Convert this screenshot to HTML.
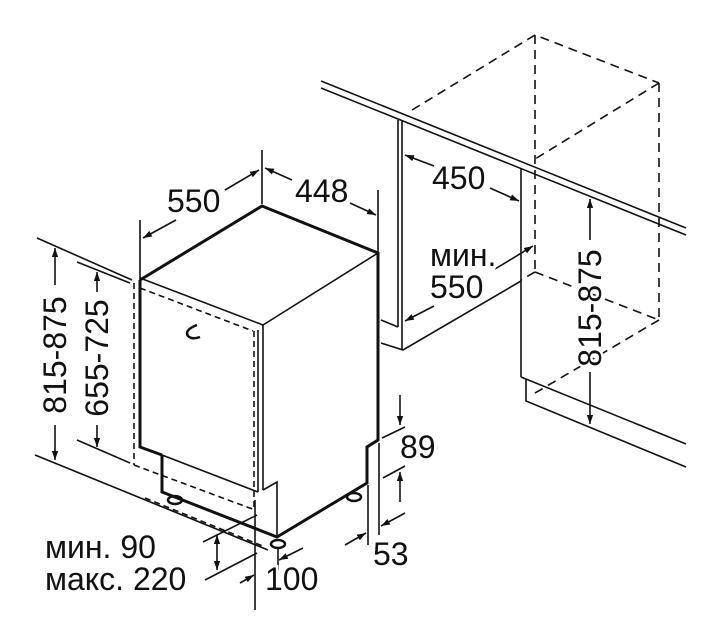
<!DOCTYPE html>
<html><head><meta charset="utf-8"><style>
html,body{margin:0;padding:0;background:#fff;}
svg{display:block}
text{font-family:"Liberation Sans",sans-serif;font-size:32px;fill:#111;stroke:#fff;stroke-width:5px;paint-order:stroke;}
</style></head><body>
<svg width="720" height="640" viewBox="0 0 720 640" xmlns="http://www.w3.org/2000/svg">
<defs>
<marker id="a" viewBox="0 0 10 10" refX="10" refY="5" markerWidth="9" markerHeight="9" markerUnits="userSpaceOnUse" orient="auto"><path d="M0,1.5 L10,5 L0,8.5 z" fill="#111"/></marker>
</defs>
<g stroke="#111" fill="none" stroke-width="1.6">
<line x1="321" y1="81" x2="686" y2="228"/>
<line x1="321" y1="88" x2="686" y2="235"/>
<g stroke-dasharray="9,6">
<polyline points="412,110 535,35 659,83"/>
<line x1="535" y1="35" x2="535" y2="272"/>
<line x1="659" y1="83" x2="659" y2="320"/>
<line x1="659" y1="83" x2="535" y2="159"/>
<line x1="535" y1="272" x2="659" y2="320"/>
<line x1="659" y1="320" x2="530" y2="396"/>
<line x1="535" y1="272" x2="521" y2="280"/>
</g>
<line x1="398" y1="120" x2="398" y2="327"/>
<line x1="402" y1="120" x2="402" y2="350"/>
<polyline points="381,320 398,327"/>
<polyline points="381,343 403,350 521,281"/>
<line x1="521" y1="169" x2="521" y2="377"/>
<line x1="521" y1="377" x2="686" y2="444"/>
<polyline points="526,379 526,401 686,467"/>
<polyline stroke-width="3" points="140,280 262,206 378,253 378,440 367,447 367,483 277,537 162,492 162,455"/>
<line x1="378" y1="253" x2="263" y2="325"/>
<line x1="140" y1="278" x2="263" y2="325"/>
<line x1="263" y1="325" x2="263" y2="490"/>
<polyline points="263,490 277,482 277,537"/>
<polyline stroke-width="3" points="140,280 140,447 162,455"/>
<line x1="162" y1="455" x2="258" y2="492"/>
<line x1="258" y1="330" x2="258" y2="492"/>
<g stroke-dasharray="6,4">
<line x1="134" y1="283" x2="134" y2="465"/>
<line x1="134" y1="465" x2="255" y2="510"/>
<line x1="140" y1="288" x2="253" y2="331"/>
<line x1="254" y1="331" x2="254" y2="510"/>
<line x1="145" y1="498" x2="265" y2="547"/>
</g>
<path d="M197,325 Q184,330 188,336 Q192,340 200,337" stroke-width="2.5"/>
<ellipse cx="175" cy="500" rx="7" ry="4" stroke-width="2.5"/>
<ellipse cx="278" cy="544" rx="7" ry="4" stroke-width="2.5"/>
<ellipse cx="354" cy="497" rx="7" ry="4" stroke-width="2.5"/>
<line x1="37" y1="238" x2="132" y2="280"/>
<line x1="77" y1="262" x2="130" y2="283"/>
<line x1="77" y1="440" x2="130" y2="463"/>
<line x1="35" y1="455" x2="268" y2="550"/>
<line x1="55" y1="285" x2="55" y2="248" marker-end="url(#a)"/>
<line x1="55" y1="425" x2="55" y2="460" marker-end="url(#a)"/>
<line x1="97" y1="292" x2="97" y2="272" marker-end="url(#a)"/>
<line x1="97" y1="425" x2="97" y2="447" marker-end="url(#a)"/>
<line x1="140" y1="220" x2="140" y2="280"/>
<line x1="262" y1="150" x2="262" y2="204"/>
<line x1="378" y1="190" x2="378" y2="253"/>
<line x1="176" y1="220" x2="143" y2="238" marker-end="url(#a)"/>
<line x1="225" y1="190" x2="259" y2="170" marker-end="url(#a)"/>
<line x1="292" y1="180" x2="265" y2="168" marker-end="url(#a)"/>
<line x1="350" y1="203" x2="376" y2="215" marker-end="url(#a)"/>
<line x1="434" y1="166" x2="405" y2="155" marker-end="url(#a)"/>
<line x1="490" y1="188" x2="519" y2="201" marker-end="url(#a)"/>
<line x1="495" y1="269" x2="533" y2="246" marker-end="url(#a)"/>
<line x1="434" y1="306" x2="405" y2="321" marker-end="url(#a)"/>
<line x1="590" y1="240" x2="590" y2="199" marker-end="url(#a)"/>
<line x1="590" y1="372" x2="590" y2="424" marker-end="url(#a)"/>
<line x1="379" y1="443" x2="379" y2="535"/>
<line x1="368" y1="485" x2="368" y2="545"/>
<line x1="382" y1="438" x2="405" y2="427"/>
<line x1="383" y1="478" x2="405" y2="466"/>
<line x1="400" y1="395" x2="400" y2="425" marker-end="url(#a)"/>
<line x1="400" y1="502" x2="400" y2="472" marker-end="url(#a)"/>
<line x1="345" y1="545" x2="366" y2="533" marker-end="url(#a)"/>
<line x1="405" y1="513" x2="381" y2="526" marker-end="url(#a)"/>
<line x1="255" y1="500" x2="255" y2="610"/>
<line x1="278" y1="548" x2="278" y2="570"/>
<line x1="303" y1="548" x2="279" y2="560" marker-end="url(#a)"/>
<line x1="240" y1="583" x2="254" y2="575" marker-end="url(#a)"/>
<line x1="203" y1="542" x2="257" y2="515"/>
<line x1="205" y1="580" x2="257" y2="553"/>
<line x1="217" y1="552" x2="217" y2="535" marker-end="url(#a)"/>
<line x1="217" y1="552" x2="217" y2="570" marker-end="url(#a)"/>
</g>
<text x="167" y="212">550</text>
<text x="295" y="202">448</text>
<text x="432" y="189">450</text>
<text x="430" y="266">мин.</text>
<text x="430" y="298">550</text>
<text x="400" y="458">89</text>
<text x="373" y="565">53</text>
<text x="265" y="590">100</text>
<text x="45" y="558">мин. 90</text>
<text x="45" y="590">макс. 220</text>
<text transform="translate(66,355) rotate(-90)" text-anchor="middle">815-875</text>
<text transform="translate(108,358) rotate(-90)" text-anchor="middle">655-725</text>
<text transform="translate(601,308) rotate(-90)" text-anchor="middle">815-875</text>
</svg>
</body></html>
